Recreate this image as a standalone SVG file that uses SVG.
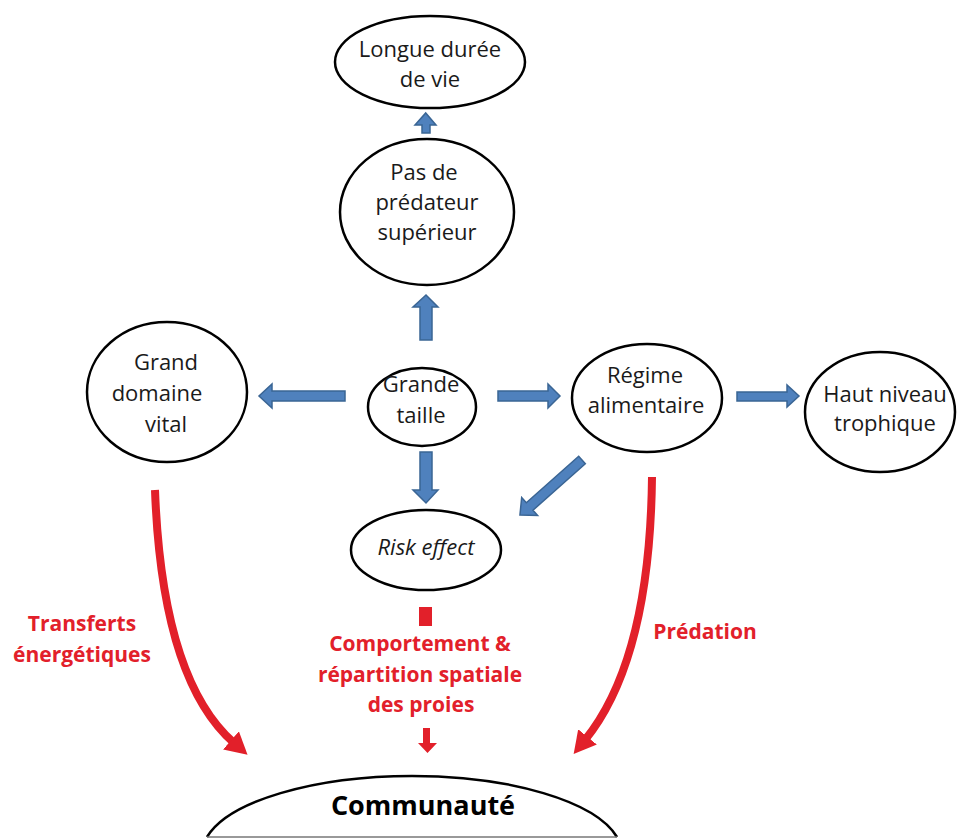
<svg xmlns="http://www.w3.org/2000/svg" width="958" height="838" viewBox="0 0 958 838">
<style>
.node ellipse{fill:#fff;stroke:#000;stroke-width:2.5}
.t{font-family:"Open Sans","Noto Sans","Liberation Sans",sans-serif;font-size:22px;fill:#1a1a1a;text-anchor:middle}
.r{font-family:"Open Sans","Noto Sans","Liberation Sans",sans-serif;font-size:21px;font-weight:bold;fill:#E2202A;text-anchor:middle}
.blue{fill:#4F81BD;stroke:#3A6594;stroke-width:1.5;stroke-linejoin:miter}
.red{fill:none;stroke:#E2202A;stroke-width:8}
</style>
<defs>
<marker id="rh" markerUnits="userSpaceOnUse" markerWidth="30" markerHeight="30" refX="4" refY="12" orient="auto">
<polygon points="0,0 22,12 0,24" fill="#E2202A"/>
</marker>
</defs>
<g id="connectors">
<polygon class="blue" points="422,133 430,133 430,125 436,125 425.7,113 415,125 422,125"/>
<polygon class="blue" points="420,340 432,340 432,307 438,307 426,295 413,307 420,307"/>
<polygon class="blue" points="345,391 345,401 272,401 272,408 259,396 272,384 272,391"/>
<polygon class="blue" points="498,391 548,391 548,384 560,396 548,408 548,401 498,401"/>
<polygon class="blue" points="737,392 787,392 787,385 799,396 787,407 787,401 737,401"/>
<polygon class="blue" points="420,452 432,452 432,490 438,490 426,503 413,490 420,490"/>
<polygon class="blue" transform="translate(582,460) rotate(138.4)" points="0,-5 70,-5 70,-12 83,0 70,12 70,5 0,5"/>
<path class="red" d="M155,490 Q162,680 234,743" marker-end="url(#rh)"/>
<path class="red" d="M652,477 Q650,660 585,740" marker-end="url(#rh)"/>
<rect x="419" y="607" width="13" height="19" fill="#E2202A"/>
<polygon points="423,728 430,728 430,743 437,743 427.5,753 418,743 423,743" fill="#E2202A"/>
</g>
<g id="longue" class="node">
<ellipse cx="430" cy="62" rx="95" ry="46"/>
<text class="t" x="430" y="57">Longue durée</text>
<text class="t" x="430" y="87">de vie</text>
</g>
<g id="pasde" class="node">
<ellipse cx="427" cy="212" rx="87" ry="73"/>
<text class="t" x="424" y="180">Pas de</text>
<text class="t" x="427" y="210">prédateur</text>
<text class="t" x="427" y="240">supérieur</text>
</g>
<g id="grand" class="node">
<ellipse cx="167" cy="392" rx="80" ry="70"/>
<text class="t" x="166" y="370">Grand</text>
<text class="t" x="157" y="401">domaine</text>
<text class="t" x="166" y="432">vital</text>
</g>
<g id="grande" class="node">
<ellipse cx="422" cy="407" rx="54" ry="39"/>
<text class="t" x="421" y="392">Grande</text>
<text class="t" x="421" y="423">taille</text>
</g>
<g id="regime" class="node">
<ellipse cx="647" cy="398" rx="75" ry="54"/>
<text class="t" x="645" y="383">Régime</text>
<text class="t" x="646" y="413">alimentaire</text>
</g>
<g id="haut" class="node">
<ellipse cx="880" cy="412" rx="75" ry="60"/>
<text class="t" x="885" y="402">Haut niveau</text>
<text class="t" x="885" y="431">trophique</text>
</g>
<g id="risk" class="node">
<ellipse cx="426" cy="550" rx="75" ry="40"/>
<text class="t" x="426" y="555" font-style="italic">Risk effect</text>
</g>
<g id="labels">
<text class="r" x="82" y="631">Transferts</text>
<text class="r" x="82" y="662">énergétiques</text>
<text class="r" x="420" y="651">Comportement &amp;</text>
<text class="r" x="420" y="682">répartition spatiale</text>
<text class="r" x="421" y="712">des proies</text>
<text class="r" x="705" y="639">Prédation</text>
</g>
<g id="communaute" class="node">
<path d="M207,837 A210,78 0 0 1 617,837" fill="#fff" stroke="#000" stroke-width="2.5"/>
<line x1="207" y1="837" x2="617" y2="837" stroke="#777" stroke-width="1.5"/>
<text x="423" y="815" font-family="Open Sans, Noto Sans, Liberation Sans, sans-serif" font-size="27" font-weight="bold" fill="#000" text-anchor="middle">Communauté</text>
</g>
</svg>
